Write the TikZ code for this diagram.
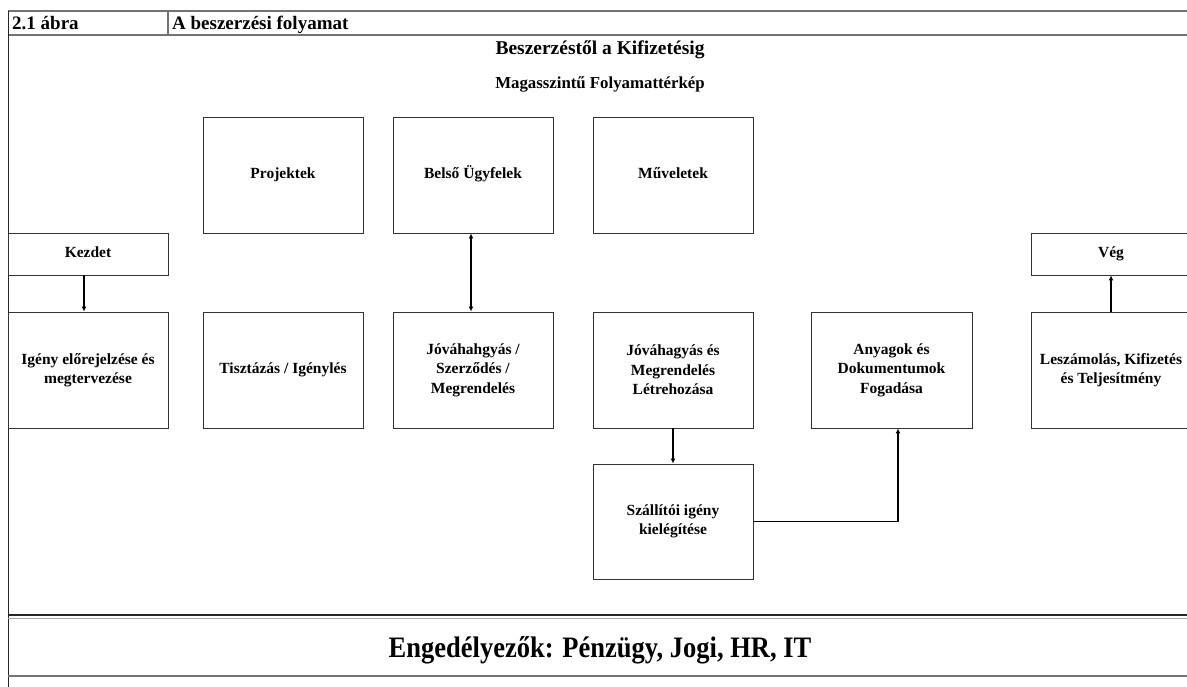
\documentclass[tikz,border=0pt]{standalone}
\usepackage{fontspec}
\setmainfont{Liberation Serif}
\usetikzlibrary{arrows.meta}
\begin{document}
\begin{tikzpicture}[x=1pt,y=-1pt,
  box/.style={draw=black!80,line width=0.9pt,minimum width=160pt,minimum height=116pt,inner sep=2pt,align=center,font=\fontsize{15.5}{19.5}\selectfont\bfseries},
  one/.style={text height=10.5pt,text depth=3.5pt},
  sbox/.style={box,one,minimum height=42pt},
  conn/.style={line width=1.8pt,-{Latex[length=5pt,width=5pt]}},
  frame/.style={draw=black!55,line width=1.4pt},
  hdr/.style={anchor=base west,font=\fontsize{19}{21}\selectfont\bfseries,inner sep=0pt}]
\useasboundingbox (0,0) rectangle (1187,687);
\clip (0,0) rectangle (1187,687);
% frame
\draw[frame] (8,11) -- (1187,11);
\draw[frame] (8,35) -- (1187,35);
\draw[frame] (168,11) -- (168,35);
\draw[line width=1pt,black!85] (8,11) -- (8,687);
\draw[line width=1.3pt,black!85] (8,615) -- (1187,615);
\draw[line width=0.6pt,black!35] (8,618) -- (1187,618);
\draw[line width=1.8pt,black!55] (8,676) -- (1187,676);
% header texts
\node[hdr] (fig) at (12,30) {2.1 ábra};
\node[hdr] (ttl) at (172,30) {A beszerzési folyamat};
\node[anchor=base,font=\fontsize{19.5}{21}\selectfont\bfseries] (t1) at (600,55) {Beszerzéstől a Kifizetésig};
\node[anchor=base,font=\fontsize{16.8}{18}\selectfont\bfseries] (t2) at (600,89) {Magasszintű Folyamattérkép};
% boxes
\node[box,one] (proj) at (283,175) {Projektek};
\node[box,one] (belso) at (473,175) {Belső Ügyfelek};
\node[box,one] (muv) at (673,175) {Műveletek};
\node[sbox] (kezd) at (88,254) {Kezdet};
\node[sbox] (veg) at (1111,254) {Vég};
\node[box] (igeny) at (88,370) {Igény előrejelzése és\\megtervezése};
\node[box,one] (tisz) at (283,370) {Tisztázás / Igénylés};
\node[box] (jov1) at (473,370) {Jóváhahgyás /\\Szerződés /\\Megrendelés};
\node[box] (jov2) at (673,370) {Jóváhagyás és\\Megrendelés\\Létrehozása};
\node[box,minimum width=161pt] (anyag) at (891.5,370) {Anyagok és\\Dokumentumok\\Fogadása};
\node[box] (lesz) at (1111,370) {Leszámolás, Kifizetés\\és Teljesítmény};
\node[box,minimum height=115pt] (szall) at (673,521.5) {Szállítói igény\\kielégítése};
% bottom
\node[anchor=base,font=\fontsize{26.5}{30}\selectfont\bfseries] (eng) at (600,657) {\scalebox{1}[1.12]{Engedélyezők: Pénzügy, Jogi, HR, IT}};
% connectors
\draw[conn] (kezd.south -| 84,0) -- (igeny.north -| 84,0);
\draw[line width=1.8pt,{Latex[length=5pt,width=5pt]}-{Latex[length=5pt,width=5pt]}] (belso.south -| 471,0) -- (jov1.north -| 471,0);
\draw[conn] (jov2.south) -- (szall.north);
\draw[conn] (szall.east) -| (anyag.south -| 898,0);
\draw[conn] (lesz.north) -- (veg.south);
\end{tikzpicture}
\end{document}
